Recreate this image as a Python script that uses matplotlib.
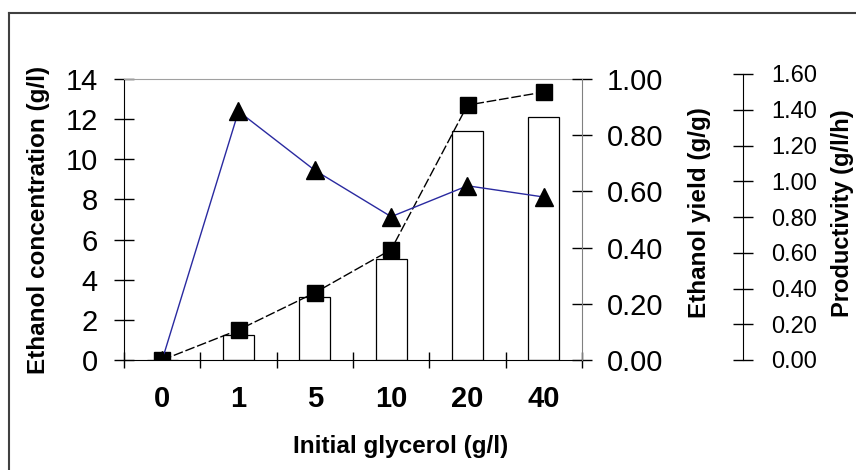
import matplotlib
matplotlib.use("Agg")
import matplotlib.pyplot as plt
from matplotlib.lines import Line2D

plt.rcParams['font.family'] = ['Liberation Sans', 'DejaVu Sans']

# данные по начальному глицерину
glycerol = ['0', '1', '5', '10', '20', '40']
conc = [0.0, 1.5, 3.35, 5.5, 12.7, 13.35]          # этанол, г/л
yield_ = [0.0, 0.885, 0.675, 0.51, 0.62, 0.58]      # выход, г/г
productivity = [0.0, 0.14, 0.355, 0.565, 1.28, 1.36]  # продуктивность, г/л/ч

W, H = 856, 470
fig = plt.figure(figsize=(W / 100, H / 100), dpi=100)

x = list(range(len(glycerol)))
left, right = 124, 582

# продуктивность (столбцы) на отдельной оси
ax_p = fig.add_axes([left / W, (H - 360) / H, (right - left) / W, 286 / H])
ax_p.bar(x, productivity, width=0.41, color='white', edgecolor='black', linewidth=0.9)
ax_p.set_xlim(-0.5, 5.5)
ax_p.set_ylim(0, 1.6)
ax_p.patch.set_visible(False)
for s in ['left', 'top', 'bottom']:
    ax_p.spines[s].set_visible(False)
ax_p.spines['right'].set_position(('axes', (743 - left) / (right - left)))
ax_p.spines['right'].set_color('black')
ax_p.yaxis.tick_right()
ax_p.set_yticks([0.0, 0.2, 0.4, 0.6, 0.8, 1.0, 1.2, 1.4, 1.6])
ax_p.set_yticklabels([f"{v:.2f}" for v in ax_p.get_yticks()])
ax_p.tick_params(axis='y', direction='inout', length=14.4, width=1, pad=13, labelsize=17)
ax_p.set_xticks([])
ax_p.set_ylabel("Productivity (g/l/h)", fontsize=17, fontweight='bold', rotation=90)
ax_p.yaxis.set_label_position('right')
ax_p.yaxis.set_label_coords((831 - left) / (right - left), 0.514)

# концентрация этанола (левая ось)
ax = fig.add_axes([left / W, (H - 360) / H, (right - left) / W, 281 / H])
ax.patch.set_visible(False)
ax.plot(x, conc, color='black', linestyle=(0, (7, 2)), linewidth=1,
        marker='s', markersize=11, markerfacecolor='black', markeredgecolor='black', zorder=3)
ax.set_xlim(-0.5, 5.5)
ax.set_ylim(0, 14)
ax.set_yticks(range(0, 15, 2))
ax.tick_params(axis='y', direction='inout', length=13.7, width=1, pad=12, labelsize=21)
ax.set_xticks(x)
ax.set_xticklabels(glycerol, fontweight='bold')
ax.tick_params(axis='x', which='major', length=0, pad=18, labelsize=21)
ax.set_xticks([i - 0.5 for i in range(len(glycerol) + 1)], minor=True)
ax.tick_params(axis='x', which='minor', direction='inout', length=12, width=1)
ax.spines['top'].set_color('#a0a0a0')
ax.spines['right'].set_visible(False)
ax.set_ylabel("Ethanol concentration (g/l)", fontsize=17.5, fontweight='bold')
ax.yaxis.set_label_coords((50 - left) / (right - left), 0.5)
ax.set_xlabel("Initial glycerol (g/l)", fontsize=17.5, fontweight='bold')
ax.xaxis.set_label_coords((401 - left) / (right - left), -(435 - 360) / 281)

# выход этанола (правая ось)
ax_y = ax.twinx()
ax_y.plot(x, yield_, color='#2a2aa0', linewidth=1,
          marker='^', markersize=12.5, markerfacecolor='black', markeredgecolor='black', zorder=3)
ax_y.set_ylim(0, 1.0)
ax_y.set_yticks([0.0, 0.2, 0.4, 0.6, 0.8, 1.0])
ax_y.set_yticklabels([f"{v:.2f}" for v in ax_y.get_yticks()])
ax_y.tick_params(axis='y', direction='inout', length=13.7, width=1, pad=11, labelsize=21)
for s in ['left', 'top', 'bottom']:
    ax_y.spines[s].set_visible(False)
ax_y.spines['right'].set_color('#808080')
ax_y.set_ylabel("Ethanol yield (g/g)", fontsize=17.5, fontweight='bold')
ax_y.yaxis.set_label_coords((688 - left) / (right - left), 0.525)

# рамка вокруг рисунка
fig.add_artist(Line2D([9 / W, 9 / W], [0, 1 - 13 / H], color='#404040', linewidth=1.5))
fig.add_artist(Line2D([9 / W, 1], [1 - 13 / H, 1 - 13 / H], color='#404040', linewidth=1.5))

fig.savefig("out.png", dpi=100)
